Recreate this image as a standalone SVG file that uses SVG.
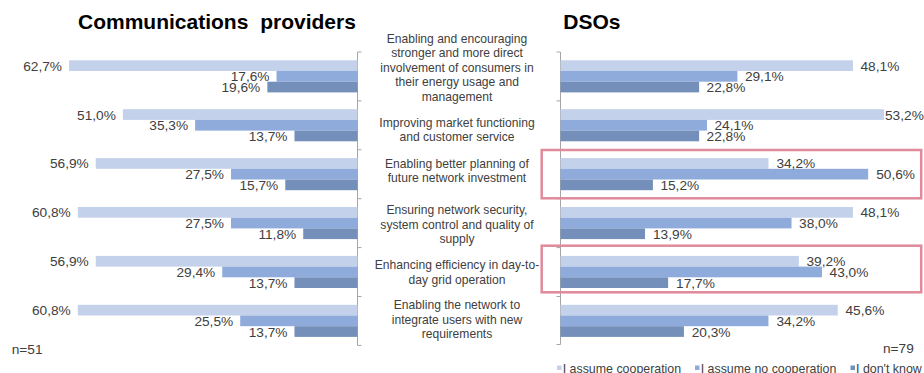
<svg xmlns="http://www.w3.org/2000/svg" width="924" height="373" viewBox="0 0 924 373">
<style>
.title{font-family:"Liberation Sans",Arial,sans-serif;font-weight:bold;font-size:21px;fill:#000}
.lbl{font-family:"Liberation Sans",Arial,sans-serif;font-size:13.7px;fill:#404040}
.cat{font-family:"Liberation Sans",Arial,sans-serif;font-size:12.1px;fill:#404040;text-anchor:middle}
.leg{font-family:"Liberation Sans",Arial,sans-serif;font-size:12.4px;fill:#404040}
.l{fill:#C3D1EA}
.m{fill:#8FABDC}
.d{fill:#7490BA}
.ax{stroke:#A6A6A6;stroke-width:1;fill:none}
.hl{stroke:#E08A9B;stroke-width:2.5;fill:none}
.le{text-anchor:end}
</style>
<rect width="924" height="373" fill="#fff"/>
<text class="title" x="78" y="29" word-spacing="6">Communications providers</text>
<text class="title" x="563.3" y="29">DSOs</text>

<g id="axes" class="ax">
<path d="M357.5,52V345.4M357.5,52h4M357.5,100.9h4M357.5,149.8h4M357.5,198.7h4M357.5,247.6h4M357.5,296.5h4M357.5,345.4h4"/>
<path d="M560.5,52V344.5M556.5,52h4M556.5,100.9h4M556.5,149.8h4M556.5,198.7h4M556.5,247.6h4M556.5,296.5h4M556.5,344.5h4"/>
</g>

<g id="left-bars">
<g id="cp-1">
<rect class="l" x="69.08" y="60.3" width="288.42" height="10.7"/>
<rect class="m" x="276.54" y="71" width="80.96" height="10.7"/>
<rect class="d" x="267.34" y="81.7" width="90.16" height="10.7"/>
<text class="lbl le" x="62" y="70.65">62,7%</text>
<text class="lbl le" x="269.5" y="81.35">17,6%</text>
<text class="lbl le" x="260.3" y="92.05">19,6%</text>
</g>
<g id="cp-2">
<rect class="l" x="122.9" y="109.2" width="234.6" height="10.7"/>
<rect class="m" x="195.12" y="119.9" width="162.38" height="10.7"/>
<rect class="d" x="294.48" y="130.6" width="63.02" height="10.7"/>
<text class="lbl le" x="115.9" y="119.55">51,0%</text>
<text class="lbl le" x="188.1" y="130.25">35,3%</text>
<text class="lbl le" x="287.5" y="140.95">13,7%</text>
</g>
<g id="cp-3">
<rect class="l" x="95.76" y="158.1" width="261.74" height="10.7"/>
<rect class="m" x="231" y="168.8" width="126.5" height="10.7"/>
<rect class="d" x="285.28" y="179.5" width="72.22" height="10.7"/>
<text class="lbl le" x="88.8" y="168.45">56,9%</text>
<text class="lbl le" x="224" y="179.15">27,5%</text>
<text class="lbl le" x="278.3" y="189.85">15,7%</text>
</g>
<g id="cp-4">
<rect class="l" x="77.82" y="207" width="279.68" height="10.7"/>
<rect class="m" x="231" y="217.7" width="126.5" height="10.7"/>
<rect class="d" x="303.22" y="228.4" width="54.28" height="10.7"/>
<text class="lbl le" x="70.8" y="217.35">60,8%</text>
<text class="lbl le" x="224" y="228.05">27,5%</text>
<text class="lbl le" x="296.2" y="238.75">11,8%</text>
</g>
<g id="cp-5">
<rect class="l" x="95.76" y="255.9" width="261.74" height="10.7"/>
<rect class="m" x="222.26" y="266.6" width="135.24" height="10.7"/>
<rect class="d" x="294.48" y="277.3" width="63.02" height="10.7"/>
<text class="lbl le" x="88.8" y="266.25">56,9%</text>
<text class="lbl le" x="215.3" y="276.95">29,4%</text>
<text class="lbl le" x="287.5" y="287.65">13,7%</text>
</g>
<g id="cp-6">
<rect class="l" x="77.82" y="304.8" width="279.68" height="10.7"/>
<rect class="m" x="240.2" y="315.5" width="117.3" height="10.7"/>
<rect class="d" x="294.48" y="326.2" width="63.02" height="10.7"/>
<text class="lbl le" x="70.8" y="315.15">60,8%</text>
<text class="lbl le" x="233.2" y="325.85">25,5%</text>
<text class="lbl le" x="287.5" y="336.55">13,7%</text>
</g>
</g>

<g id="categories">
<g id="cat-1">
<text class="cat" x="457" y="42.5">Enabling and encouraging</text>
<text class="cat" x="457" y="57">stronger and more direct</text>
<text class="cat" x="457" y="71.5">involvement of consumers in</text>
<text class="cat" x="457" y="86">their energy usage and</text>
<text class="cat" x="457" y="100.5">management</text>
</g>
<g id="cat-2">
<text class="cat" x="457" y="126.5">Improving market functioning</text>
<text class="cat" x="457" y="141">and customer service</text>
</g>
<g id="cat-3">
<text class="cat" x="457" y="167.5">Enabling better planning of</text>
<text class="cat" x="457" y="182">future network investment</text>
</g>
<g id="cat-4">
<text class="cat" x="457" y="214.3">Ensuring network security,</text>
<text class="cat" x="457" y="228.8">system control and quality of</text>
<text class="cat" x="457" y="243.3">supply</text>
</g>
<g id="cat-5">
<text class="cat" x="457" y="269">Enhancing efficiency in day-to-</text>
<text class="cat" x="457" y="283.5">day grid operation</text>
</g>
<g id="cat-6">
<text class="cat" x="457" y="309.2">Enabling the network to</text>
<text class="cat" x="457" y="323.7">integrate users with new</text>
<text class="cat" x="457" y="338.2">requirements</text>
</g>
</g>

<g id="right-bars">
<g id="dso-1">
<rect class="l" x="560.5" y="60.3" width="292.45" height="10.7"/>
<rect class="m" x="560.5" y="71" width="176.93" height="10.7"/>
<rect class="d" x="560.5" y="81.7" width="138.62" height="10.7"/>
<text class="lbl" x="860.5" y="70.65">48,1%</text>
<text class="lbl" x="744.9" y="81.35">29,1%</text>
<text class="lbl" x="706.6" y="92.05">22,8%</text>
</g>
<g id="dso-2">
<rect class="l" x="560.5" y="109.2" width="323.46" height="10.7"/>
<rect class="m" x="560.5" y="119.9" width="146.53" height="10.7"/>
<rect class="d" x="560.5" y="130.6" width="138.62" height="10.7"/>
<text class="lbl" x="885" y="119.55">53,2%</text>
<text class="lbl" x="714.5" y="130.25">24,1%</text>
<text class="lbl" x="706.6" y="140.95">22,8%</text>
</g>
<g id="dso-3">
<rect class="l" x="560.5" y="158.1" width="207.94" height="10.7"/>
<rect class="m" x="560.5" y="168.8" width="307.65" height="10.7"/>
<rect class="d" x="560.5" y="179.5" width="92.42" height="10.7"/>
<text class="lbl" x="776.4" y="168.45">34,2%</text>
<text class="lbl" x="876.2" y="179.15">50,6%</text>
<text class="lbl" x="660.4" y="189.85">15,2%</text>
</g>
<g id="dso-4">
<rect class="l" x="560.5" y="207" width="292.45" height="10.7"/>
<rect class="m" x="560.5" y="217.7" width="231.04" height="10.7"/>
<rect class="d" x="560.5" y="228.4" width="84.51" height="10.7"/>
<text class="lbl" x="860.5" y="217.35">48,1%</text>
<text class="lbl" x="799.1" y="228.05">38,0%</text>
<text class="lbl" x="653" y="238.75">13,9%</text>
</g>
<g id="dso-5">
<rect class="l" x="560.5" y="255.9" width="238.34" height="10.7"/>
<rect class="m" x="560.5" y="266.6" width="261.44" height="10.7"/>
<rect class="d" x="560.5" y="277.3" width="107.62" height="10.7"/>
<text class="lbl" x="806.5" y="266.25">39,2%</text>
<text class="lbl" x="829.6" y="276.95">43,0%</text>
<text class="lbl" x="676.1" y="287.65">17,7%</text>
</g>
<g id="dso-6">
<rect class="l" x="560.5" y="304.8" width="277.25" height="10.7"/>
<rect class="m" x="560.5" y="315.5" width="207.94" height="10.7"/>
<rect class="d" x="560.5" y="326.2" width="123.42" height="10.7"/>
<text class="lbl" x="845.5" y="315.15">45,6%</text>
<text class="lbl" x="776.4" y="325.85">34,2%</text>
<text class="lbl" x="691.7" y="336.55">20,3%</text>
</g>
</g>

<g id="highlights">
<rect class="hl" x="541.7" y="150" width="379.5" height="48.3"/>
<rect class="hl" x="541.7" y="245.7" width="379.5" height="46.6"/>
</g>

<text class="lbl" x="11.7" y="354">n=51</text>
<text class="lbl" x="883" y="353">n=79</text>

<g id="legend">
<rect class="l" x="557" y="365.5" width="4.5" height="4.5"/>
<text class="leg" x="562.7" y="373.3">I assume cooperation</text>
<rect class="m" x="695" y="365.5" width="4.5" height="4.5"/>
<text class="leg" x="700.7" y="373.3">I assume no cooperation</text>
<rect class="d" x="850.5" y="365.5" width="4.5" height="4.5"/>
<text class="leg" x="856" y="373.3">I don't know</text>
</g>
</svg>
